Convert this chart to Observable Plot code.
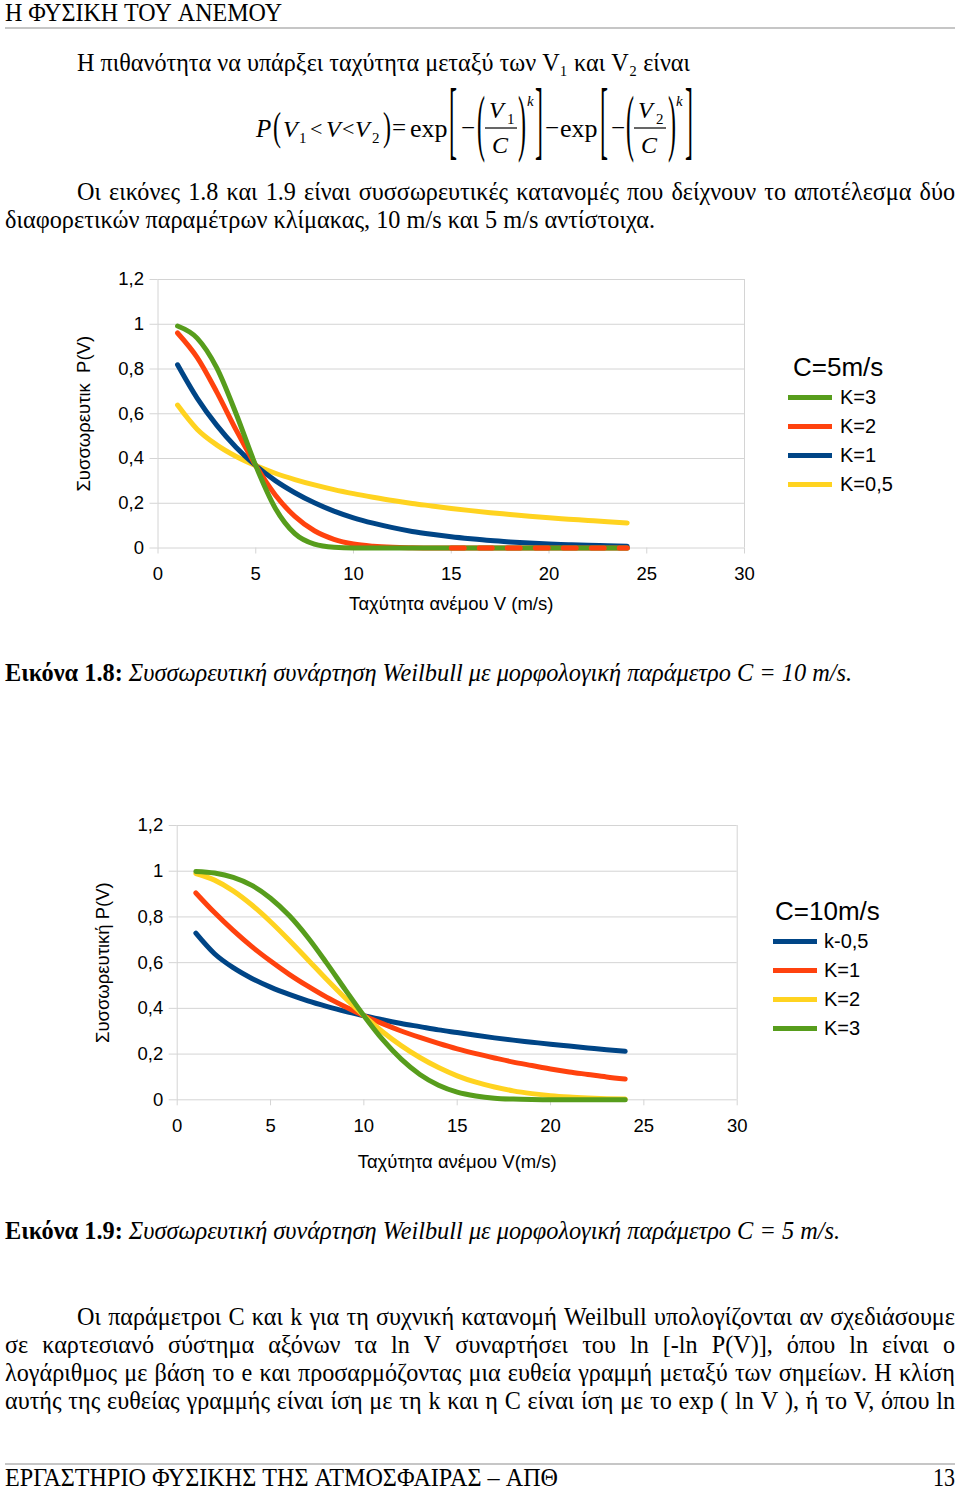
<!DOCTYPE html>
<html lang="el"><head><meta charset="utf-8">
<script src="https://cdn.jsdelivr.net/npm/d3@7"></script>
<script src="https://cdn.jsdelivr.net/npm/@observablehq/plot@0.6"></script>
<style>
html,body{margin:0;padding:0;background:#fff;}
#page{position:relative;width:960px;height:1490px;overflow:hidden;background:#fff;}
#page svg.txt{position:absolute;left:0;top:0;}
.chart{position:absolute;left:0;}
.legend{position:absolute;font-family:"Liberation Sans",Arial,sans-serif;color:#000;}
.legend .title{font-size:26px;height:31px;line-height:31px;white-space:nowrap;}
.legend .item{display:flex;align-items:center;height:29px;font-size:20px;white-space:nowrap;}
.legend .sw{display:inline-block;width:44px;height:5px;}
</style></head><body><div id="page"></div>
<script>
// ---------- data ----------
const windSpeed = [1,2,3,4,5,6,7,8,9,10,11,12,13,14,15,16,17,18,19,20,21,22,23,24];
const xTicks = [0,5,10,15,20,25,30];
const yTicks = [0,0.2,0.4,0.6,0.8,1,1.2];

// Εικόνα 1.8 (C=5 m/s)
const c5Labels = ["K=3","K=2","K=1","K=0,5"];
const c5Colors = ["#579d1c","#ff420e","#004586","#ffd320"];
const c5_k3  = [0.992,0.938,0.806,0.599,0.368,0.178,0.064,0.017,0.003,0,0,0,0,0,0,0,0,0,0,0,0,0,0,0];
const c5_k2  = [0.961,0.852,0.698,0.527,0.368,0.237,0.141,0.077,0.039,0.018,0.008,0.003,0.001,0,0,0,0,0,0,0,0,0,0,0];
const c5_k1  = [0.819,0.670,0.549,0.449,0.368,0.301,0.247,0.202,0.165,0.135,0.111,0.091,0.074,0.061,0.050,0.041,0.033,0.027,0.022,0.018,0.015,0.012,0.010,0.008];
const c5_k05 = [0.639,0.531,0.461,0.409,0.368,0.334,0.306,0.282,0.261,0.243,0.227,0.212,0.199,0.188,0.177,0.167,0.158,0.150,0.142,0.135,0.129,0.123,0.117,0.112];

// Εικόνα 1.9 (C=10 m/s)
const c10Labels = ["k-0,5","K=1","K=2","K=3"];
const c10Colors = ["#004586","#ff420e","#ffd320","#579d1c"];
const c10_k05 = [0.729,0.639,0.578,0.531,0.493,0.461,0.433,0.409,0.387,0.368,0.350,0.334,0.320,0.306,0.294,0.282,0.271,0.261,0.252,0.243,0.235,0.227,0.219,0.212];
const c10_k1  = [0.905,0.819,0.741,0.670,0.607,0.549,0.497,0.449,0.407,0.368,0.333,0.301,0.273,0.247,0.223,0.202,0.183,0.165,0.150,0.135,0.122,0.111,0.100,0.091];
const c10_k2  = [0.990,0.961,0.914,0.852,0.779,0.698,0.613,0.527,0.445,0.368,0.298,0.237,0.185,0.141,0.105,0.077,0.056,0.039,0.027,0.018,0.012,0.008,0.005,0.003];
const c10_k3  = [0.999,0.992,0.973,0.938,0.882,0.806,0.710,0.599,0.482,0.368,0.264,0.178,0.111,0.064,0.034,0.017,0.007,0.003,0.001,0,0,0,0,0];

// ---------- page text ----------
const textLines = [
  {segs:[{t:"Η ΦΥΣΙΚΗ ΤΟΥ ΑΝΕΜΟΥ"}], x:5, y:21, w:277},
  {segs:[{t:"Η πιθανότητα να υπάρξει ταχύτητα μεταξύ των V₁ και V₂ είναι"}], x:77, y:71, w:613},
  {segs:[{t:"Οι εικόνες 1.8 και 1.9 είναι συσσωρευτικές κατανομές που δείχνουν το αποτέλεσμα δύο"}], x:77, y:200, w:878, j:true},
  {segs:[{t:"διαφορετικών παραμέτρων κλίμακας, 10 m/s και 5 m/s αντίστοιχα."}], x:5, y:228, w:650},
  {segs:[{t:"Εικόνα 1.8:", b:true},{t:"Συσσωρευτική συνάρτηση Weilbull με μορφολογική παράμετρο C = 10 m/s.", i:true}], x:5, y:681, w:847},
  {segs:[{t:"Εικόνα 1.9:", b:true},{t:"Συσσωρευτική συνάρτηση Weilbull με μορφολογική παράμετρο C = 5 m/s.", i:true}], x:5, y:1239, w:835},
  {segs:[{t:"Οι παράμετροι C και k για τη συχνική κατανομή Weilbull υπολογίζονται αν σχεδιάσουμε"}], x:77, y:1325, w:878, j:true},
  {segs:[{t:"σε καρτεσιανό σύστημα αξόνων τα ln V συναρτήσει του ln [-ln P(V)], όπου ln είναι ο"}], x:5, y:1353, w:950, j:true},
  {segs:[{t:"λογάριθμος με βάση το e και προσαρμόζοντας μια ευθεία γραμμή μεταξύ των σημείων. Η κλίση"}], x:5, y:1381, w:950, j:true},
  {segs:[{t:"αυτής της ευθείας γραμμής είναι ίση με τη k και η C είναι ίση με το exp ( ln V ), ή το V, όπου ln"}], x:5, y:1409, w:950, j:true},
  {segs:[{t:"ΕΡΓΑΣΤΗΡΙΟ ΦΥΣΙΚΗΣ ΤΗΣ ΑΤΜΟΣΦΑΙΡΑΣ – ΑΠΘ"}], x:5, y:1486, w:553},
  {segs:[{t:"13"}], x:933, y:1486, w:22}
];

const page = document.getElementById("page");
const FS = 25, SERIF = '"Liberation Serif","Times New Roman",serif';
const ctx = document.createElement("canvas").getContext("2d");
const fnt = s => `${s.i ? "italic " : ""}${s.b ? "bold " : ""}${FS}px ${SERIF}`;
const measure = (t, s) => { ctx.font = fnt(s); return ctx.measureText(t).width; };

const svg = d3.create("svg").attr("class","txt").attr("width",960).attr("height",1490)
  .attr("font-family", SERIF).attr("fill","#000");
page.appendChild(svg.node());

svg.append("line").attr("x1",5).attr("x2",955).attr("y1",28).attr("y2",28).attr("stroke","#c6c6c6").attr("stroke-width",2);
svg.append("line").attr("x1",5).attr("x2",955).attr("y1",1464).attr("y2",1464).attr("stroke","#c6c6c6").attr("stroke-width",2);

function tokens(line){
  const out=[];
  line.segs.forEach(s => s.t.split(" ").filter(w=>w.length).forEach(w => out.push({w, s, width: measure(w, s)})));
  return out;
}
const scales = [];
textLines.forEach(L => {
  const tk = tokens(L); L.tk = tk;
  if (!L.j) {
    const nat = tk.reduce((a,t)=>a+t.width,0) + (tk.length-1)*measure(" ",{});
    L.s = L.w / nat; scales.push(L.s);
  }
});
const sMed = d3.median(scales);
textLines.forEach(L => {
  const tk = L.tk;
  let s = L.s, gap;
  if (L.j) { s = sMed; gap = (L.w - s*tk.reduce((a,t)=>a+t.width,0)) / (tk.length-1); }
  else gap = measure(" ",{}) * s;
  let x = L.x;
  tk.forEach(t => {
    svg.append("text").attr("x",x).attr("y",L.y).attr("font-size",FS)
      .attr("font-style",t.s.i?"italic":null).attr("font-weight",t.s.b?"bold":null)
      .attr("textLength", t.width*s).attr("lengthAdjust","spacingAndGlyphs").text(t.w);
    x += t.width*s + gap;
  });
});

// formula
function g(t, x, y, o={}){
  const size = o.size||24, sy = o.sy||1;
  svg.append("text").attr("transform",`translate(${x},${y}) scale(1,${sy})`)
    .attr("font-size",size).attr("font-style",o.it?"italic":null).text(t);
}
g("P",256,137,{it:1,size:25});
g("(",273,139.5,{sy:1.67});
g("V",283,137,{it:1}); g("1",299,143,{size:15});
g("<",310,136,{size:22});
g("V",326,137,{it:1});
g("<",342,136,{size:22});
g("V",355,137,{it:1}); g("2",372,143,{size:15});
g(")",383,139.5,{sy:1.67});
g("=",392,136,{size:25});
g("exp",410,137,{size:26});
g("[",449,148.3,{sy:3.64});
g("−",461,136,{size:25});
g("(",477,146.8,{sy:3.08});
g("V",489,118,{it:1}); g("1",507,124,{size:15});
svg.append("line").attr("x1",485).attr("x2",517).attr("y1",128).attr("y2",128).attr("stroke","#000").attr("stroke-width",1.2);
g("C",492,153,{it:1});
g(")",518,146.8,{sy:3.08});
g("k",527,106,{size:15,it:1});
g("]",535,148.3,{sy:3.64});
g("−",545,136,{size:25});
g("exp",560,137,{size:26});
g("[",600,148.3,{sy:3.64});
g("−",611,136,{size:25});
g("(",626,146.8,{sy:3.08});
g("V",638,118,{it:1}); g("2",656,124,{size:15});
svg.append("line").attr("x1",634).attr("x2",666).attr("y1",128).attr("y2",128).attr("stroke","#000").attr("stroke-width",1.2);
g("C",641,153,{it:1});
g(")",668,146.8,{sy:3.08});
g("k",676,106,{size:15,it:1});
g("]",685,148.3,{sy:3.64});

// ---------- charts ----------
const fmt = d => String(d).replace(".", ",");
const SANS = '"Liberation Sans",Arial,sans-serif';
function rows(vals){ return windSpeed.map((v,i)=>({v, p: vals[i]})); }

function makeChart(o){
  const lineMarks = o.series.map((vals,i)=>Plot.line(rows(vals), {x:"v", y:"p", stroke:o.colors[i], strokeWidth:5, curve:"monotone-x", strokeLinecap:"round"}));
  const ordered = o.order.map(i=>lineMarks[i]);
  const p = Plot.plot({
    width:960, height:o.height,
    marginLeft:o.mL, marginRight:o.mR, marginTop:o.mT, marginBottom:o.mB,
    x:{domain:[0,30]}, y:{domain:[0,1.2]},
    style:{fontFamily:SANS, fontSize:"18.5px", color:"#000", background:"transparent"},
    marks:[
      Plot.gridY(yTicks, {stroke:"#d4d4d4", strokeOpacity:1}),
      Plot.ruleX([0,30], {y1:0, y2:1.2, stroke:"#d4d4d4"}),
      Plot.axisY({ticks:yTicks, tickFormat:fmt, tickSize:8, tickPadding:6, stroke:"#d4d4d4", strokeOpacity:1,
        label:o.yLabel, labelAnchor:"center", labelOffset:o.yOff, labelArrow:false}),
      Plot.axisX({ticks:xTicks, tickSize:6, tickPadding:13, stroke:"#d4d4d4", strokeOpacity:1,
        label:o.xLabel, labelAnchor:"center", labelOffset:o.xOff, labelArrow:false}),
      ...ordered,
      ...(o.extra||[])
    ]
  });
  p.classList.add("chart");
  p.style.top = o.top + "px";
  page.appendChild(p);

  const lg = document.createElement("div");
  lg.className = "legend";
  lg.style.left = o.lgX + "px"; lg.style.top = o.lgY + "px";
  const tt = document.createElement("div"); tt.className="title"; tt.style.paddingLeft = o.lgPad+"px"; tt.textContent = o.title; lg.appendChild(tt);
  o.legendOrder.forEach(i => {
    const it = document.createElement("div"); it.className="item";
    const sw = document.createElement("span"); sw.className="sw"; sw.style.background = o.colors[i]; sw.style.marginRight = o.lgGap+"px";
    it.appendChild(sw); it.appendChild(document.createTextNode(o.labels[i]));
    lg.appendChild(it);
  });
  page.appendChild(lg);
}

makeChart({
  series:[c5_k3,c5_k2,c5_k1,c5_k05], colors:c5Colors, labels:c5Labels,
  order:[3,2,1,0], legendOrder:[0,1,2,3],
  top:260, height:370, mL:157.5, mR:216, mT:19, mB:82.5,
  yLabel:"Συσσωρευτικ\u00a0 P(V)", yOff:81, xLabel:"Ταχύτητα ανέμου V (m/s)", xOff:62,
  title:"C=5m/s", lgX:788, lgY:352, lgPad:5, lgGap:8,
  extra:[Plot.line(rows(c5_k2).filter(d=>d.v>=15), {x:"v", y:"p", stroke:c5Colors[1], strokeWidth:5, strokeDasharray:"13,15"})]
});

makeChart({
  series:[c10_k05,c10_k1,c10_k2,c10_k3], colors:c10Colors, labels:c10Labels,
  order:[0,1,2,3], legendOrder:[0,1,2,3],
  top:805, height:385, mL:176.7, mR:223.3, mT:20, mB:90.7,
  yLabel:"Συσσωρευτική P(V)", yOff:81, xLabel:"Ταχύτητα ανέμου V(m/s)", xOff:68,
  title:"C=10m/s", lgX:773, lgY:896, lgPad:2, lgGap:7
});
</script></body></html>
